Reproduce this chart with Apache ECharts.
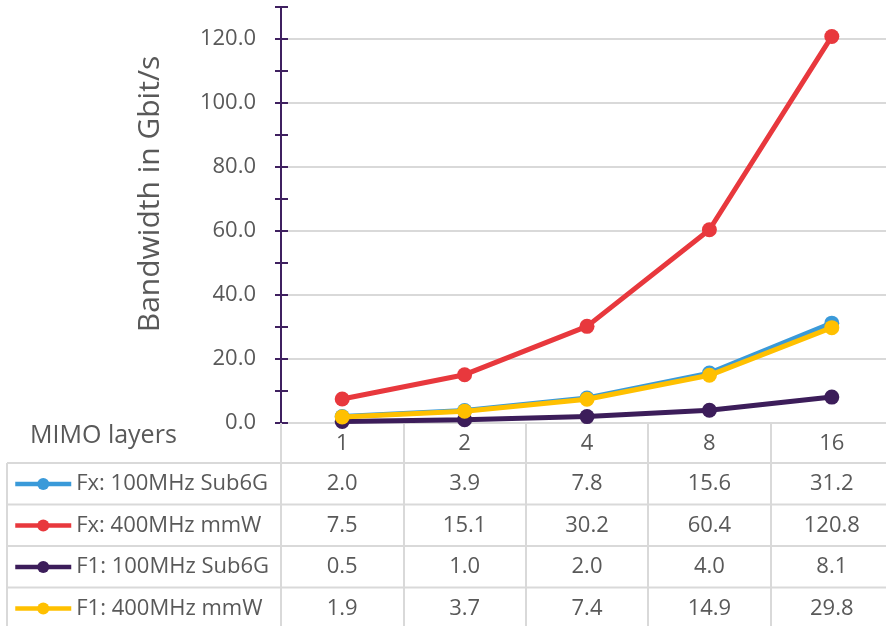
<!DOCTYPE html>
<html><head><meta charset="utf-8">
<script src="https://cdn.jsdelivr.net/npm/echarts@6/dist/echarts.min.js"></script>
<style>html,body{margin:0;padding:0;background:#fff}#c{width:886px;height:626px}</style>
</head><body><div id="c"></div>
<script>
// ---- data ----
const categories = ['1', '2', '4', '8', '16'];
const seriesNames = ['Fx: 100MHz Sub6G', 'Fx: 400MHz mmW', 'F1: 100MHz Sub6G', 'F1: 400MHz mmW'];
const fx100Sub6G = [2.0, 3.9, 7.8, 15.6, 31.2];
const fx400mmW  = [7.5, 15.1, 30.2, 60.4, 120.8];
const f1100Sub6G = [0.5, 1.0, 2.0, 4.0, 8.1];
const f1400mmW  = [1.9, 3.7, 7.4, 14.9, 29.8];
const yMin = 0, yMax = 130, yTickStep = 10, yLabelStep = 20;
const yAxisName = 'Bandwidth in Gbit/s';
const tableHeader = 'MIMO layers';

// ---- styles ----
const colors = ['#3a9ad9', '#e8383d', '#3c1d5a', '#ffc000'];
const textColor = '#595959';
const gridColor = '#d9d9d9';
const axisPurple = '#3f2060';
const font = 'Open Sans';
const allValues = [fx100Sub6G, fx400mmW, f1100Sub6G, f1400mmW];

const rowH = 41.5;
const headerH = 40;
const axisY = 423;

const tableAxes = allValues.map((vals, i) => ({
  type: 'category',
  gridIndex: 0,
  position: 'bottom',
  offset: headerH + i * rowH,
  data: vals.map(v => v.toFixed(1)),
  axisLine: { show: false },
  axisTick: { show: false },
  splitLine: { show: false },
  axisLabel: { interval: 0, margin: 10, fontSize: 22, color: textColor, fontFamily: font }
}));

const lines = [];
for (let i = 0; i < 4; i++) {
  const y = axisY + headerH + i * rowH;
  lines.push({ type: 'line', shape: { x1: 7, y1: y, x2: 886, y2: y }, style: { stroke: gridColor, lineWidth: 2 }, silent: true });
}
lines.push({ type: 'line', shape: { x1: 7, y1: axisY + headerH, x2: 7, y2: 626 }, style: { stroke: gridColor, lineWidth: 2 }, silent: true });
lines.push({ type: 'text', left: 30, top: 423, style: { text: tableHeader, fontSize: 25, fill: textColor, fontFamily: font } });

const chart = echarts.init(document.getElementById('c'));
chart.setOption({
  backgroundColor: '#fff',
  animation: false,
  textStyle: { fontFamily: font },
  grid: { left: 281, right: -7, top: 7, bottom: 626 - axisY, containLabel: false, outerBoundsMode: 'none' },
  legend: {
    orient: 'vertical', left: 8, top: 468,
    itemWidth: 56, itemHeight: 15, itemGap: rowH - 22,
    lineStyle: { width: 4.5 },
    textStyle: { fontSize: 22, lineHeight: 22, color: textColor, fontFamily: font },
    data: seriesNames
  },
  xAxis: [{
    type: 'category',
    data: categories,
    boundaryGap: true,
    axisLine: { show: true, lineStyle: { color: gridColor, width: 2 } },
    axisTick: { show: true, length: 210, lineStyle: { color: gridColor, width: 2 } },
    axisLabel: { interval: 0, margin: 10, fontSize: 22, color: textColor, fontFamily: font },
    splitLine: { show: false }
  }].concat(tableAxes),
  yAxis: [{
    type: 'value', min: yMin, max: yMax, interval: yTickStep,
    name: yAxisName, nameLocation: 'middle', nameGap: 116,
    nameTextStyle: { fontSize: 30, color: textColor, fontFamily: font, padding: [0, 0, 0, 42] },
    axisLine: { show: true, lineStyle: { color: axisPurple, width: 2 } },
    axisTick: { show: true, length: 6, lineStyle: { color: axisPurple, width: 2 } },
    axisLabel: { margin: 25, fontSize: 22, color: textColor, fontFamily: font,
      formatter: v => (v % yLabelStep === 0 ? v.toFixed(1) : '') },
    splitLine: { show: true, lineStyle: { color: [gridColor, 'rgba(0,0,0,0)'], width: 2 } }
  }, {
    type: 'value', min: yMin, max: yMax, interval: yTickStep, position: 'left',
    axisLine: { show: false },
    axisTick: { show: true, inside: true, length: 7, lineStyle: { color: axisPurple, width: 2 } },
    axisLabel: { show: false },
    splitLine: { show: false }
  }],
  series: allValues.map((vals, i) => ({
    name: seriesNames[i],
    type: 'line',
    xAxisIndex: 0, yAxisIndex: 0,
    data: vals,
    symbol: 'circle', symbolSize: 15,
    lineStyle: { color: colors[i], width: 5 },
    itemStyle: { color: colors[i] },
    z: 3 + i
  })),
  graphic: lines
});
</script>
</body></html>
